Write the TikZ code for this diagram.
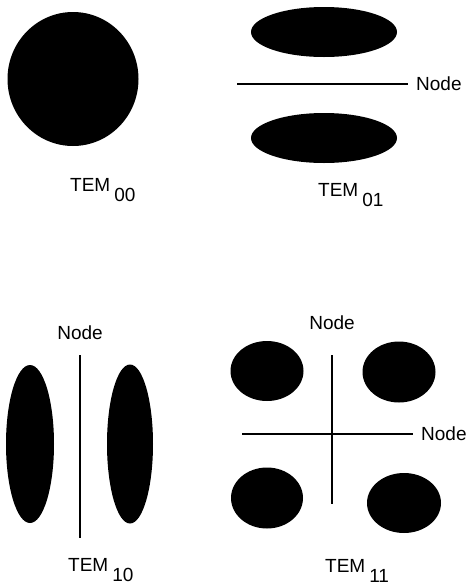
\documentclass[tikz,border=0pt]{standalone}
\usepackage{fontspec}
\setmainfont{Liberation Sans}
\usetikzlibrary{shapes.geometric}
\begin{document}
\begin{tikzpicture}[x=1pt,y=-1pt,
  lobe/.style={ellipse,fill=black,draw=none,inner sep=0pt},
  nodeline/.style={line width=2.3pt},
  lbl/.style={font=\fontsize{19}{22}\selectfont,inner sep=0pt},
  modelbl/.style={font=\fontsize{19}{22}\selectfont,inner sep=0pt,anchor=base west},
]
\newcommand{\modesub}[1]{\hspace{4pt}\raisebox{-10pt}{#1}}
\useasboundingbox (0,0) rectangle (470,587);

% TEM00
\node[lobe,minimum width=131pt,minimum height=134pt] (c00) at (73,79) {};
\node[modelbl] (t00) at (70,191) {TEM\modesub{00}};

% TEM01
\node[lobe,minimum width=146pt,minimum height=50pt] (u01) at (324,32) {};
\node[lobe,minimum width=146pt,minimum height=50pt] (d01) at (324,138) {};
\coordinate (a01) at (237,84);
\coordinate (b01) at (408,84);
\node[lbl,anchor=west] (n01) at (416,84) {Node};
\draw[nodeline] (a01) -- (b01);
\node[modelbl] (t01) at (318,196) {TEM\modesub{01}};

% TEM10
\node[lobe,minimum width=48pt,minimum height=158pt] (l10) at (30,444) {};
\node[lobe,minimum width=46pt,minimum height=159pt] (r10) at (130,444) {};
\node[lbl] (n10) at (80,333) {Node};
\coordinate (a10) at (80,355);
\coordinate (b10) at (80,538);
\draw[nodeline] (a10) -- (b10);
\node[modelbl] (t10) at (68,571) {TEM\modesub{10}};

% TEM11
\node[lobe,minimum width=73pt,minimum height=60pt] (tl11) at (267,371) {};
\node[lobe,minimum width=73pt,minimum height=61pt] (tr11) at (399,372) {};
\node[lobe,minimum width=72pt,minimum height=61pt] (bl11) at (267,498) {};
\node[lobe,minimum width=74pt,minimum height=60pt] (br11) at (404,503) {};
\node[lbl] (n11a) at (332,323) {Node};
\coordinate (a11) at (332,355);
\coordinate (b11) at (332,504);
\draw[nodeline] (a11) -- (b11);
\coordinate (c11) at (242,434);
\coordinate (d11) at (413,434);
\draw[nodeline] (c11) -- (d11);
\node[lbl,anchor=west] (n11b) at (421,434) {Node};
\node[modelbl] (t11) at (325,572) {TEM\modesub{11}};
\end{tikzpicture}
\end{document}
